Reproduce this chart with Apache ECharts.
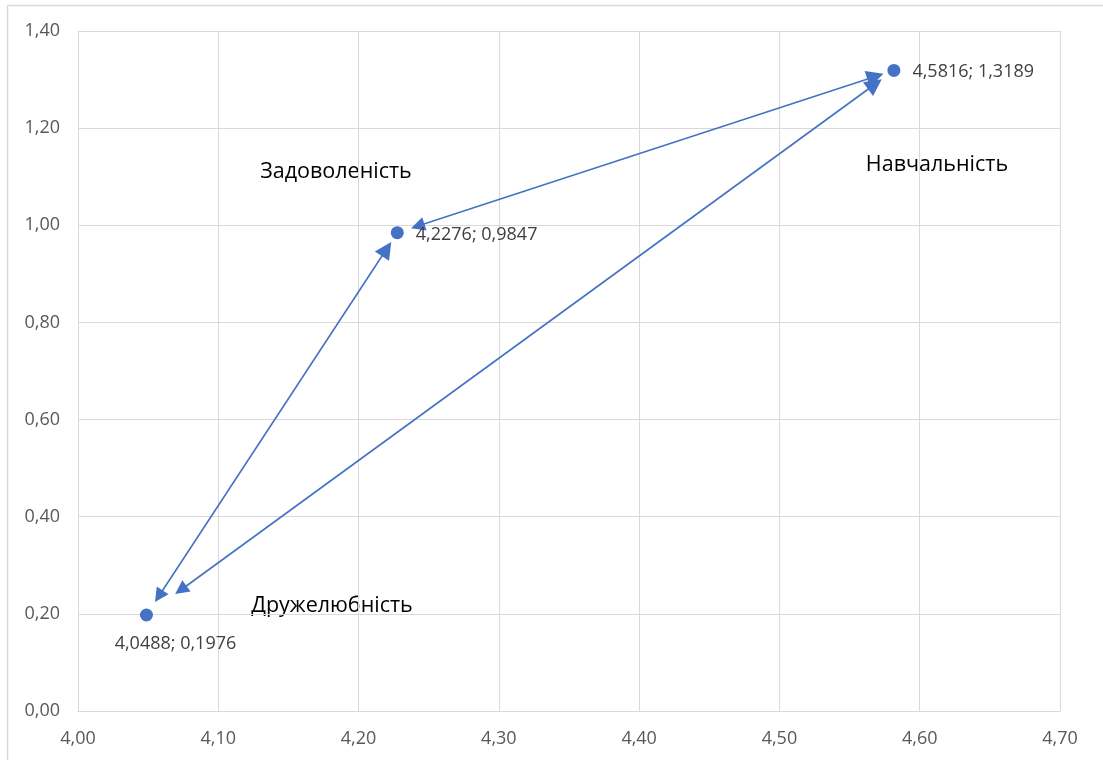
<!DOCTYPE html>
<html>
<head>
<meta charset="utf-8">
<script src="https://cdn.jsdelivr.net/npm/echarts@6/dist/echarts.min.js"></script>
<style>
  html, body { margin: 0; padding: 0; background: #ffffff; }
  #chart { width: 1103px; height: 760px; }
</style>
</head>
<body>
<div id="chart"></div>
<script>
// Factor positions: x = mean score, y = spread
const factorNames = ['Дружелюбність', 'Задоволеність', 'Навчальність'];
const xValues = [4.0488, 4.2276, 4.5816];
const yValues = [0.1976, 0.9847, 1.3189];

// Axis ranges and steps
const xMin = 4.0, xMax = 4.7, xStep = 0.1;
const yMin = 0.0, yMax = 1.4, yStep = 0.2;

// Double-headed arrows between factors: [from, to]
const arrowLinks = [[0, 1], [0, 2], [1, 2]];

const fmt = (v, d) => v.toFixed(d).replace('.', ',');

const chart = echarts.init(document.getElementById('chart'), null, { renderer: 'canvas' });
const blue = '#4472C4';
const font = '"Open Sans", "Noto Sans", sans-serif';

const labelPlacement = [
  { position: 'bottom', distance: 13, offset: [29, 0] },
  { position: 'right', distance: 12, offset: [0, 2] },
  { position: 'right', distance: 12, offset: [0, 1] }
];

const points = xValues.map((x, i) => ({
  value: [x, yValues[i]],
  name: factorNames[i],
  label: Object.assign({ show: true }, labelPlacement[i])
}));

// gap (px) between each arrow tip and the point it points at: [fromGap, toGap]
const arrowGaps = [[14, 11], [34, 15], [13, 11]];
// caption boxes for the three factors (pixel anchors, centre of text)
const captions = [
  { text: factorNames[1], x: 336, y: 172 },
  { text: factorNames[2], x: 937, y: 165 },
  { text: factorNames[0], x: 332, y: 606 }
];

chart.setOption({
  animation: false,
  backgroundColor: '#ffffff',
  grid: { left: 78, top: 31, right: 43, bottom: 49, containLabel: false },
  xAxis: {
    type: 'value', min: xMin, max: xMax, interval: xStep,
    axisLine: { show: true, lineStyle: { color: '#d9d9d9', width: 1 } },
    axisTick: { show: false },
    splitLine: { show: true, lineStyle: { color: '#d9d9d9', width: 1 } },
    axisLabel: { color: '#595959', fontSize: 18, fontFamily: font, margin: 19,
      formatter: v => fmt(v, 2) }
  },
  yAxis: {
    type: 'value', min: yMin, max: yMax, interval: yStep,
    axisLine: { show: true, lineStyle: { color: '#d9d9d9', width: 1 } },
    axisTick: { show: false },
    splitLine: { show: true, lineStyle: { color: '#d9d9d9', width: 1 } },
    axisLabel: { color: '#595959', fontSize: 18, fontFamily: font, margin: 18,
      formatter: v => fmt(v, 2) }
  },
  series: [{
    type: 'scatter',
    symbol: 'circle',
    symbolSize: 13,
    itemStyle: { color: blue, opacity: 1 },
    z: 5,
    label: {
      color: '#404040', fontSize: 18, fontFamily: font,
      formatter: p => fmt(p.value[0], 4) + '; ' + fmt(p.value[1], 4)
    },
    data: points
  }],
  graphic: [
    { type: 'rect', silent: true, shape: { x: 7.5, y: 5.5, width: 1200, height: 900 },
      style: { fill: 'none', stroke: '#d9d9d9', lineWidth: 1.5 } }
  ].concat(captions.map(c => ({
    type: 'text', x: c.x, y: c.y, silent: true,
    style: { text: c.text, fill: '#000000', font: '21.5px ' + font,
      textAlign: 'center', textVerticalAlign: 'middle' }
  })))
});

// Build the arrows after layout so gaps can be set in pixels
const headLen = 17;
const arrowData = arrowLinks.map(([a, b], k) => {
  const pa = chart.convertToPixel({ gridIndex: 0 }, [xValues[a], yValues[a]]);
  const pb = chart.convertToPixel({ gridIndex: 0 }, [xValues[b], yValues[b]]);
  const dx = pb[0] - pa[0], dy = pb[1] - pa[1];
  const len = Math.hypot(dx, dy);
  const ux = dx / len, uy = dy / len;
  const ga = arrowGaps[k][0] + headLen / 2, gb = arrowGaps[k][1] + headLen / 2;
  const s = [pa[0] + ux * ga, pa[1] + uy * ga];
  const e = [pb[0] - ux * gb, pb[1] - uy * gb];
  return {
    coords: [
      chart.convertFromPixel({ gridIndex: 0 }, s),
      chart.convertFromPixel({ gridIndex: 0 }, e)
    ]
  };
});

chart.setOption({
  series: [{}, {
    type: 'lines',
    coordinateSystem: 'cartesian2d',
    symbol: ['triangle', 'triangle'],
    symbolSize: [14, headLen],
    lineStyle: { color: blue, width: 1.6, opacity: 1, curveness: 0 },
    itemStyle: { color: blue },
    silent: true,
    z: 4,
    data: arrowData
  }]
});
</script>
</body>
</html>
